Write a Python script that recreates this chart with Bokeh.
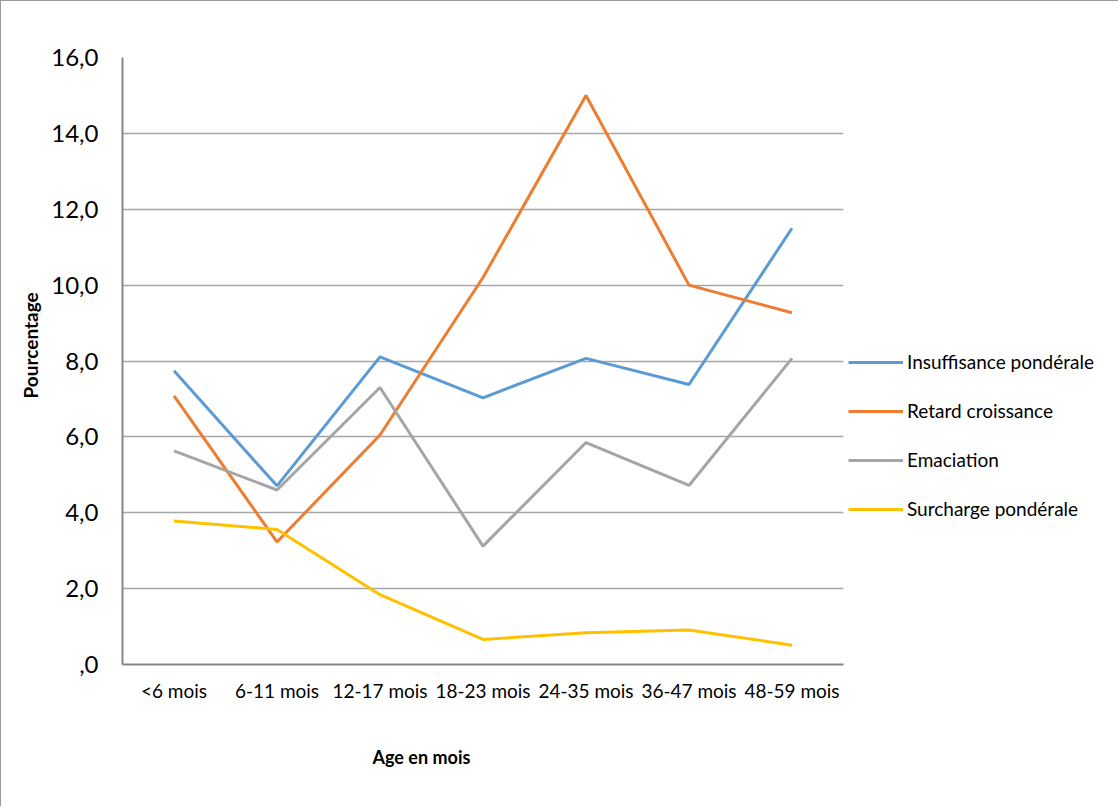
from bokeh.plotting import figure
from bokeh.models import Range1d, FactorRange, FixedTicker, Legend, LegendItem, Title
from bokeh.embed import file_html
from bokeh.resources import INLINE

categories = ["<6 mois", "6-11 mois", "12-17 mois", "18-23 mois", "24-35 mois", "36-47 mois", "48-59 mois"]
insuffisance = [7.74, 4.71, 8.11, 7.03, 8.07, 7.38, 11.50]
retard = [7.08, 3.23, 6.05, 10.2, 15.0, 10.0, 9.27]
emaciation = [5.63, 4.60, 7.30, 3.12, 5.85, 4.72, 8.07]
surcharge = [3.78, 3.56, 1.84, 0.66, 0.84, 0.91, 0.51]
series_names = ["Insuffisance pondérale", "Retard croissance", "Emaciation", "Surcharge pondérale"]
colors = ["#5B9BD5", "#ED7D31", "#A5A5A5", "#FFC000"]
y_ticks = [0, 2, 4, 6, 8, 10, 12, 14, 16]

FONT = "Lato"

p = figure(frame_width=721, frame_height=607, x_range=FactorRange(*categories), y_range=Range1d(0, 16),
           output_backend="svg", toolbar_location=None,
           min_border_left=121, min_border_top=56, min_border_right=0, min_border_bottom=133)
p.styles = {"border-left": "1px solid #999999", "border-top": "1px solid #999999"}
p.outline_line_color = None
p.background_fill_color = "white"
p.border_fill_color = "white"

renderers = []
for name, vals, col in zip(series_names, [insuffisance, retard, emaciation, surcharge], colors):
    r = p.line(categories, vals, line_color=col, line_width=3)
    renderers.append((name, r))

p.xgrid.grid_line_color = None
p.ygrid.grid_line_color = "#a6a6a6"
p.ygrid.grid_line_width = 1.5

p.yaxis.ticker = FixedTicker(ticks=y_ticks)
p.yaxis.major_label_overrides = {t: (",0" if t == 0 else f"{t},0") for t in y_ticks}
for ax in (p.xaxis[0], p.yaxis[0]):
    ax.axis_line_color = "#868686"
    ax.axis_line_width = 2
    ax.major_tick_line_color = None
    ax.minor_tick_line_color = None
    ax.major_tick_out = 0
    ax.major_tick_in = 0
    ax.major_label_text_font = FONT
    ax.major_label_text_color = "black"
p.yaxis.major_label_text_font_size = "24px"
p.yaxis.major_label_standoff = 24
p.xaxis.major_label_text_font_size = "19px"
p.xaxis.major_label_standoff = 14

yt = Title(text="Pourcentage", align="left", offset=266, standoff=13,
           text_font=FONT, text_font_style="bold", text_font_size="19px", text_color="black")
p.add_layout(yt, "left")

xt = Title(text="Age en mois", align="left", offset=250, standoff=78,
           text_font=FONT, text_font_style="bold", text_font_size="18px", text_color="black")
p.add_layout(xt, "below")

legend = Legend(items=[LegendItem(label=n, renderers=[r]) for n, r in renderers],
                location=(5, 144), orientation="vertical",
                glyph_width=55, glyph_height=20, label_height=20, label_standoff=4, spacing=26,
                padding=0, margin=0, border_line_color=None, background_fill_alpha=0,
                label_text_font=FONT, label_text_font_size="19px", label_text_color="black")
p.add_layout(legend, "right")

open("out.html", "w").write(file_html(p, INLINE))
